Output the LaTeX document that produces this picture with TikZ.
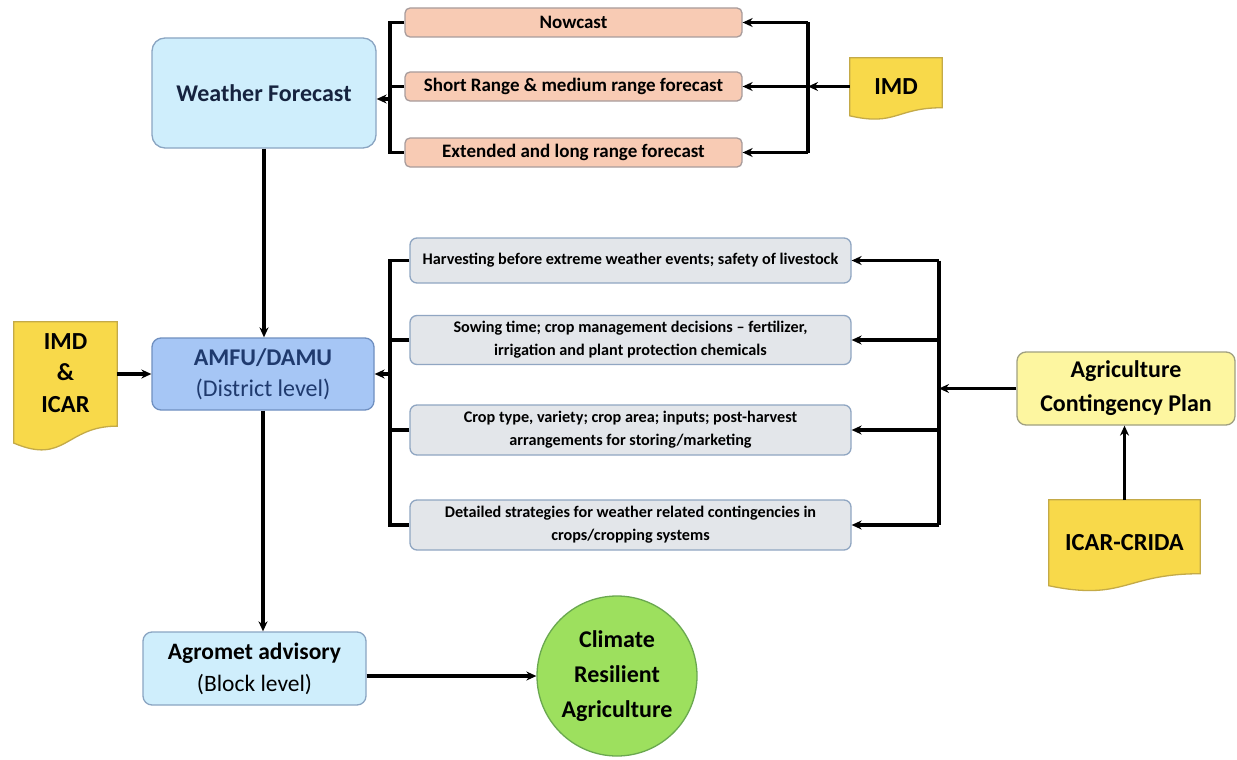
\documentclass[tikz,border=0pt]{standalone}
\usepackage{fontspec}
\setmainfont{Carlito}
\usetikzlibrary{arrows.meta,calc}
\definecolor{lblue}{HTML}{CFEEFC}
\definecolor{lblueb}{HTML}{8AA5C2}
\definecolor{mblue}{HTML}{A6C6F5}
\definecolor{mblueb}{HTML}{6F8FC0}
\definecolor{salmon}{HTML}{F8CBB4}
\definecolor{salmonb}{HTML}{A89C9C}
\definecolor{gbox}{HTML}{E3E6EA}
\definecolor{gboxb}{HTML}{90A6C2}
\definecolor{lyel}{HTML}{FDF6A0}
\definecolor{lyelb}{HTML}{A0A080}
\definecolor{gold}{HTML}{F8D94A}
\definecolor{goldb}{HTML}{C4AA48}
\definecolor{grn}{HTML}{9DE05E}
\definecolor{grnb}{HTML}{6AA84F}
\definecolor{navy}{HTML}{16233F}
\definecolor{navyb}{HTML}{1F3A6E}
\newcommand\docdraw[1]{%
  \filldraw[fill=gold,draw=goldb,line width=1.3pt] (#1.north west) -- (#1.north east)
  -- ($(#1.north east)!0.80!(#1.south east)$)
  .. controls ($(#1.north)!0.80!(#1.south)$) and ($(#1.north)!1.10!(#1.south)$)
  .. ($(#1.north west)!0.93!(#1.south west)$) -- cycle;}
\begin{document}
\begin{tikzpicture}[x=1pt,y=-1pt,
  line/.style={line width=3.2pt,draw=black},
  arr/.style={line width=3.2pt,draw=black,-{Stealth[length=10pt,width=9pt]}},
  rbox/.style={rectangle,rounded corners=7pt,line width=1.3pt,inner sep=0pt,align=center},
  wfbox/.style={rbox,rounded corners=13pt,fill=lblue,draw=lblueb,text=navy,font=\fontsize{24}{28}\selectfont\bfseries},
  fcbox/.style={rbox,rounded corners=5pt,fill=salmon,draw=salmonb,minimum width=337pt,minimum height=29pt,font=\fontsize{19}{22}\selectfont\bfseries},
  gybox/.style={rbox,fill=gbox,draw=gboxb,minimum width=441pt,font=\fontsize{16.2}{23}\selectfont\bfseries},
  docnode/.style={rectangle,inner sep=0pt},
  doctext/.style={inner sep=0pt,align=center,font=\fontsize{24.5}{31.5}\selectfont\bfseries}
]
\useasboundingbox[fill=white] (0,0) rectangle (1237,760);

% top section
\node[wfbox,minimum width=224pt,minimum height=110pt] (wf) at (264,93) {Weather Forecast};
\node[fcbox] (now) at (573.5,22.5) {Nowcast};
\node[fcbox] (short) at (573.5,86.5) {Short Range \& medium range forecast};
\node[fcbox] (ext) at (573.5,152.5) {Extended and long range forecast};
\node[docnode,minimum width=92pt,minimum height=62pt] (imd) at (896,89) {};
\docdraw{imd}
\node[doctext] (imdlabel) at ($(imd.north)!0.46!(imd.south)$) {IMD};

\coordinate (tl) at (390,0);
\coordinate (tr) at (808,0);
\draw[line] (now.west) -- (now.west -| tl) -- (ext.west -| tl) -- (ext.west);
\draw[line] (short.west) -- (short.west -| tl);
\draw[arr] ([yshift=-6pt]wf.east -| tl) -- ([yshift=-6pt]wf.east);
\draw[line] (now.east -| tr) -- (ext.east -| tr);
\draw[arr] (now.east -| tr) -- (now.east);
\draw[arr] (ext.east -| tr) -- (ext.east);
\draw[arr] (imd.west |- short.east) -- (short.east -| tr);
\draw[arr] (short.east -| tr) -- (short.east);

% middle section
\node[rbox,rounded corners=9pt,fill=mblue,draw=mblueb,text=navyb,minimum width=222pt,minimum height=72pt,font=\fontsize{24}{31}\selectfont] (amfu) at (263,374)
  {\textbf{AMFU/DAMU}\\(District level)};
\node[docnode,minimum width=103pt,minimum height=130pt] (imdicar) at (65.5,387) {};
\docdraw{imdicar}
\node[doctext] (imdicarlabel) at ($(imdicar.north)!0.39!(imdicar.south)$) {IMD\\\&\\ICAR};

\node[gybox,minimum height=45pt] (b1) at (630.5,260.5) {Harvesting before extreme weather events; safety of livestock};
\node[gybox,minimum height=49pt] (b2) at (630.5,340) {Sowing time; crop management decisions -- fertilizer,\\irrigation and plant protection chemicals};
\node[gybox,minimum height=50pt] (b3) at (630.5,430) {Crop type, variety; crop area; inputs; post-harvest\\arrangements for storing/marketing};
\node[gybox,minimum height=50pt] (b4) at (630.5,525) {Detailed strategies for weather related contingencies in\\crops/cropping systems};

\node[rbox,rounded corners=9pt,fill=lyel,draw=lyelb,minimum width=218pt,minimum height=73pt,font=\fontsize{24}{34}\selectfont\bfseries] (acp) at (1126,388.5) {Agriculture\\Contingency Plan};
\node[docnode,minimum width=151pt,minimum height=92pt] (crida) at (1124.5,546) {};
\docdraw{crida}
\node[doctext] (cridalabel) at ($(crida.north)!0.46!(crida.south)$) {ICAR-CRIDA};

\coordinate (ml) at (390,0);
\coordinate (mr) at (939,0);
\draw[line] (b1.west) -- (b1.west -| ml) -- (b4.west -| ml) -- (b4.west);
\draw[line] (b2.west) -- (b2.west -| ml);
\draw[line] (b3.west) -- (b3.west -| ml);
\draw[arr] (amfu.east -| ml) -- (amfu.east);
\draw[line] (b1.east -| mr) -- (b4.east -| mr);
\draw[arr] (b1.east -| mr) -- (b1.east);
\draw[arr] (b2.east -| mr) -- (b2.east);
\draw[arr] (b3.east -| mr) -- (b3.east);
\draw[arr] (b4.east -| mr) -- (b4.east);
\draw[arr] (acp.west) -- (acp.west -| mr);
\draw[arr] (crida.north) -- (crida.north |- acp.south);
\draw[arr] (imdicar.east |- amfu.west) -- (amfu.west);

% bottom section
\draw[arr] (wf.south) -- (wf.south |- amfu.north);
\node[rbox,rounded corners=9pt,fill=lblue,draw=lblueb,minimum width=223pt,minimum height=73pt,font=\fontsize{23.5}{32}\selectfont] (agro) at (254.5,668.5)
  {\textbf{Agromet advisory}\\(Block level)};
\draw[arr] (amfu.south) -- (amfu.south |- agro.north);
\node[circle,fill=grn,draw=grnb,line width=1.3pt,minimum size=160pt,inner sep=0pt,align=center,font=\fontsize{24}{35}\selectfont\bfseries] (circ) at (617,676) {Climate\\Resilient\\Agriculture};
\draw[arr] (agro.east |- circ.west) -- (circ.west);
\end{tikzpicture}
\end{document}
